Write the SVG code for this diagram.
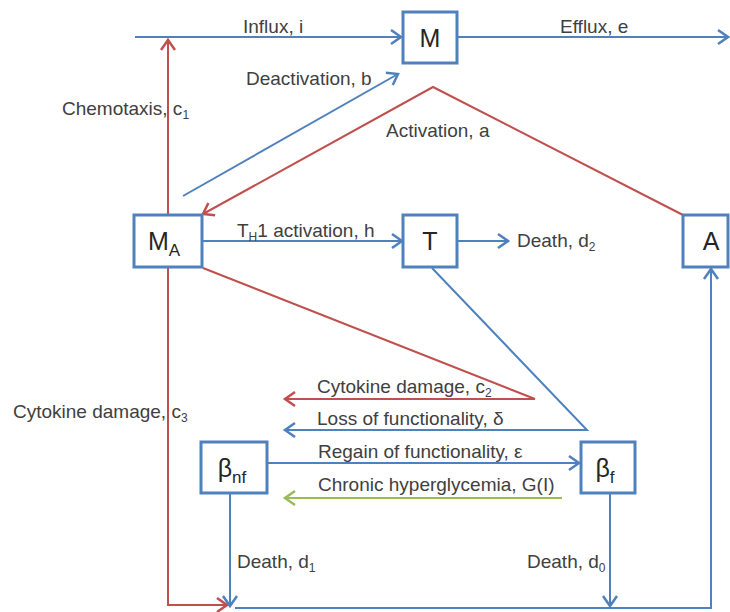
<svg xmlns="http://www.w3.org/2000/svg" width="730" height="612" viewBox="0 0 730 612">
<style>
.lbl{font-family:"Liberation Sans",Arial,sans-serif;font-size:19px;fill:#404040}
.sub{font-size:12px}
.node{font-family:"Liberation Sans",Arial,sans-serif;font-size:25px;fill:#262626;text-anchor:middle}
.box{fill:#fff;stroke:#4f81bd;stroke-width:3}
.b{fill:none;stroke:#4f81bd;stroke-width:2}
.r{fill:none;stroke:#c0504d;stroke-width:2}
.g{fill:none;stroke:#9bbb59;stroke-width:2}
</style>
<defs>
<marker id="ab" markerUnits="userSpaceOnUse" markerWidth="14" markerHeight="16" refX="11" refY="7" orient="auto" overflow="visible"><path d="M1,0 L11,7 L1,14" fill="none" stroke="#4f81bd" stroke-width="2.5"/></marker>
<marker id="ar" markerUnits="userSpaceOnUse" markerWidth="14" markerHeight="16" refX="11" refY="7" orient="auto" overflow="visible"><path d="M1,0 L11,7 L1,14" fill="none" stroke="#c0504d" stroke-width="2.5"/></marker>
<marker id="ag" markerUnits="userSpaceOnUse" markerWidth="14" markerHeight="16" refX="11" refY="7" orient="auto" overflow="visible"><path d="M1,0 L11,7 L1,14" fill="none" stroke="#9bbb59" stroke-width="2.5"/></marker>
</defs>
<rect width="730" height="612" fill="#fff"/>
<g id="connectors">
<line class="b" x1="135" y1="37" x2="401" y2="37" marker-end="url(#ab)"/>
<line class="b" x1="458" y1="37" x2="728" y2="37" marker-end="url(#ab)"/>
<line class="r" x1="168" y1="606" x2="168" y2="40" marker-end="url(#ar)"/>
<polyline class="r" points="168,605 227,605" marker-end="url(#ar)"/>
<line class="b" x1="183" y1="196" x2="398" y2="74" marker-end="url(#ab)"/>
<polyline class="r" points="683,215 433,87 203,214" marker-end="url(#ar)"/>
<line class="b" x1="203" y1="241" x2="402" y2="241" marker-end="url(#ab)"/>
<line class="b" x1="458" y1="241" x2="508" y2="241" marker-end="url(#ab)"/>
<polyline class="r" points="203,268 535,399 285,399" marker-end="url(#ar)"/>
<polyline class="b" points="432,268 587,430 285,430" marker-end="url(#ab)"/>
<line class="b" x1="268" y1="463" x2="579" y2="463" marker-end="url(#ab)"/>
<line class="g" x1="562" y1="498" x2="285" y2="498" marker-end="url(#ag)"/>
<line class="b" x1="230" y1="494" x2="230" y2="606" marker-end="url(#ab)"/>
<line class="b" x1="610" y1="494" x2="610" y2="606" marker-end="url(#ab)"/>
<polyline class="b" points="235,608 711,608 711,269" marker-end="url(#ab)"/>
</g>
<g id="labels">
<text class="lbl" x="243" y="33">Influx, i</text>
<text class="lbl" x="560" y="33">Efflux, e</text>
<text class="lbl" x="62" y="115">Chemotaxis, c<tspan class="sub" dy="4">1</tspan></text>
<text class="lbl" x="246" y="85">Deactivation, b</text>
<text class="lbl" x="386" y="137">Activation, a</text>
<text class="lbl" x="237" y="237">T<tspan class="sub" dy="4">H</tspan><tspan dy="-4">1 activation, h</tspan></text>
<text class="lbl" x="517" y="247">Death, d<tspan class="sub" dy="4">2</tspan></text>
<text class="lbl" x="317" y="393">Cytokine damage, c<tspan class="sub" dy="4">2</tspan></text>
<text class="lbl" x="317" y="425">Loss of functionality, δ</text>
<text class="lbl" x="318" y="458">Regain of functionality, ε</text>
<text class="lbl" x="318" y="491">Chronic hyperglycemia, G(I)</text>
<text class="lbl" x="13" y="418">Cytokine damage, c<tspan class="sub" dy="4">3</tspan></text>
<text class="lbl" x="237" y="568">Death, d<tspan class="sub" dy="4">1</tspan></text>
<text class="lbl" x="527" y="568">Death, d<tspan class="sub" dy="4">0</tspan></text>
</g>
<g id="M"><rect class="box" x="403" y="12" width="54" height="51"/><text class="node" x="430" y="47">M</text></g>
<g id="MA"><rect class="box" x="134" y="215" width="68" height="52"/><text class="node" x="164" y="250">M<tspan font-size="17" dy="6">A</tspan></text></g>
<g id="T"><rect class="box" x="403" y="215" width="54" height="52"/><text class="node" x="430" y="250">T</text></g>
<g id="A"><rect class="box" x="683" y="215" width="45" height="52"/><text class="node" x="711" y="250">A</text></g>
<g id="Bnf"><rect class="box" x="201" y="442" width="66" height="51"/><text class="node" x="232" y="477">β<tspan font-size="17" dy="6">nf</tspan></text></g>
<g id="Bf"><rect class="box" x="581" y="442" width="54" height="51"/><text class="node" x="605" y="477">β<tspan font-size="17" dy="6">f</tspan></text></g>
</svg>
